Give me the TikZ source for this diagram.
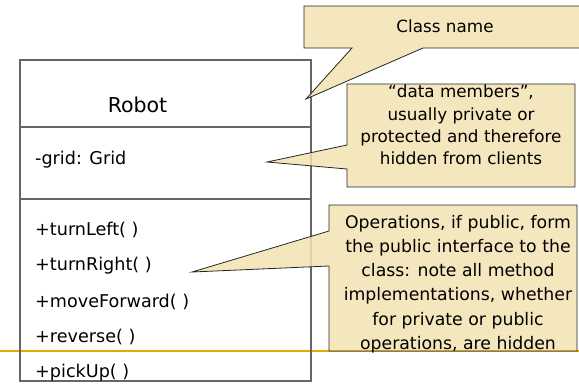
\documentclass[tikz,border=0pt]{standalone}
\usepackage{fontspec}
\setmainfont{DejaVu Sans}
\usepackage{tikz}
\usepackage{xcolor}
\definecolor{notetan}{RGB}{243,227,178}
\definecolor{slidegold}{RGB}{228,170,0}
\tikzset{
  umlbox/.style={draw=black!60,line width=1.2pt},
  member/.style={anchor=west,inner sep=0pt,font=\fontsize{17.6}{20}\selectfont},
  note/.style={draw=black!85,line width=0.8pt,fill=notetan,fill opacity=0.85,line join=miter},
  notetext/.style={align=center,inner sep=0pt,font=\fontsize{16.8}{22.3}\selectfont}
}

\begin{document}
\begin{tikzpicture}[x=1pt,y=-1pt]
\useasboundingbox (0,0) rectangle (579,384);
\draw[slidegold,line width=1.3pt] (0,351)--(579,351);
% class box
\draw[umlbox] (20,60) rectangle (311,381);
\draw[umlbox] (20,127)--(311,127); \draw[umlbox] (20,199)--(311,199);
\node[inner sep=0pt,font=\fontsize{20.5}{24}\selectfont] (cname) at (137.5,105) {Robot};
\node[member] (grid) at (35,160) {-grid: Grid};
\node[member] (tl) at (35,230) {+turnLeft( )};
\node[member] (tr) at (35,266) {+turnRight( )};
\node[member] (mf) at (35,302) {+moveForward( )};
\node[member] (rv) at (35,337) {+reverse( )};
\node[member] (pu) at (35,373) {+pickUp( )};
% callouts
\coordinate (tipname) at (306,99);
\coordinate (tipdata) at (267,162);
\coordinate (tipops) at (192,272);
\draw[note] (304,6)--(582,6)--(582,48)--(423,48)--(tipname)--(352,48)--(304,48)--cycle;
\draw[note] (347,84)--(575,84)--(575,187)--(347,187)--(347,169)--(tipdata)--(347,145)--cycle;
\draw[note] (329,205)--(577,205)--(577,351)--(329,351)--(329,266)--(tipops)--(329,231)--cycle;
\node[notetext] (nname) at (445,26) {Class name};
\node[notetext] (ndata) at (461,125) {“data members”,\\usually private or\\protected and therefore\\hidden from clients};
\node[notetext,font=\fontsize{17.3}{24.2}\selectfont] (nops) at (458,284) {Operations, if public, form\\the public interface to the\\class: note all method\\implementations, whether\\for private or public\\operations, are hidden};
\end{tikzpicture}
\end{document}
